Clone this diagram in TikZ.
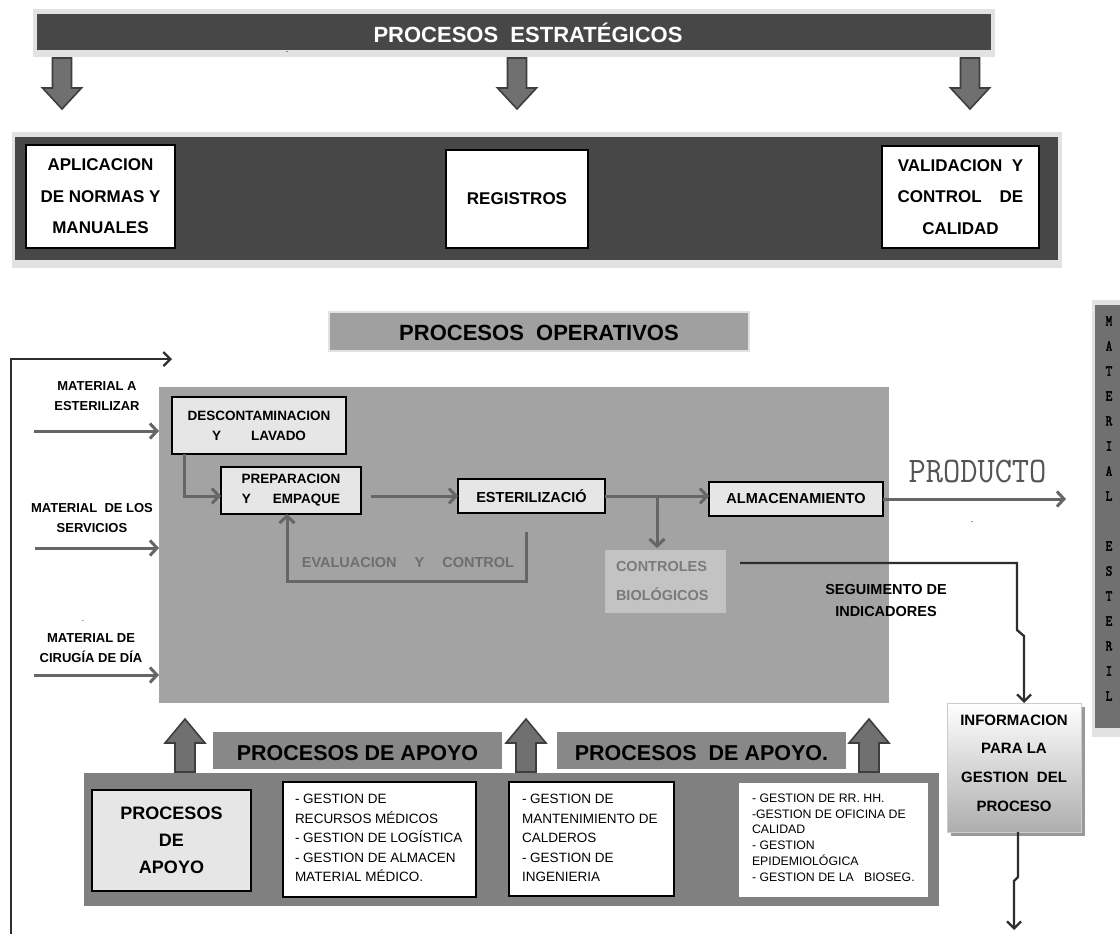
\documentclass[tikz,border=0pt]{standalone}
\usepackage{graphicx}
\usepackage{fontspec}
\setmainfont{Liberation Sans}
\newfontfamily\sidemono{lmmono10-regular}[Extension=.otf, FakeBold=2.5]
\usetikzlibrary{arrows.meta,calc}
\definecolor{darkbar}{HTML}{474747}
\definecolor{lightbd}{HTML}{E2E2E2}
\definecolor{blockfill}{HTML}{707070}
\definecolor{blockline}{HTML}{3E3E3E}
\definecolor{opgray}{HTML}{A3A3A3}
\definecolor{oplabel}{HTML}{A0A0A0}
\definecolor{boxfill}{HTML}{E6E6E6}
\definecolor{conngray}{HTML}{666666}
\definecolor{ctrlfill}{HTML}{C3C3C3}
\definecolor{ctrltext}{HTML}{7A7A7A}
\definecolor{evaltext}{HTML}{6E6E6E}
\definecolor{apoyopanel}{HTML}{808080}
\definecolor{apoyolabel}{HTML}{888888}
\definecolor{sidegray}{HTML}{707070}
\definecolor{darkline}{HTML}{2E2E2E}
\definecolor{prodgray}{HTML}{555555}
\newcommand{\fs}[2]{\fontsize{#1}{#2}\selectfont}
\newcommand{\downblock}[1]{\draw[blockarrow] ({#1-9.5},58) -- ({#1+9.5},58) -- ({#1+9.5},88) -- ({#1+19.5},88) -- (#1,109) -- ({#1-19.5},88) -- ({#1-9.5},88) -- cycle;}
\newcommand{\upblock}[1]{\draw[blockarrow] ({#1-10},772) -- ({#1+10},772) -- ({#1+10},743) -- ({#1+20},743) -- (#1,719) -- ({#1-20},743) -- ({#1-10},743) -- cycle;}
\begin{document}
\begin{tikzpicture}[x=1pt,y=-1pt,
  every node/.style={inner sep=0pt, outer sep=0pt},
  wbox/.style={draw=black, line width=1.3pt, fill=white},
  lbox/.style={draw=black, line width=1.2pt, fill=boxfill, align=center},
  garrow/.style={draw=conngray, line width=3pt, -{Straight Barb[length=7pt,width=15pt]}},
  karrow/.style={draw=darkline, line width=2.3pt, -{Straight Barb[length=7pt,width=14pt]}},
  blockarrow/.style={fill=blockfill, draw=blockline, line width=1.6pt, line join=miter},
  bigtxt/.style={font=\bfseries\fs{17}{31.5}, align=center},
  midtxt/.style={font=\bfseries\fs{13.5}{20}, align=center},
  inlabel/.style={font=\bfseries\fs{13}{20}, align=center},
  listtxt/.style={font=\fs{13.5}{19.5}, align=left, anchor=west},
]
\useasboundingbox (0,0) rectangle (1120,934);
\fill[white] (0,0) rectangle (1120,934);

% ---------- strategic processes ----------
\fill[lightbd] (33,9) rectangle (995,57);
\node[fill=darkbar, minimum width=954pt, minimum height=36pt] (strat) at (514,32) {};
\node[text=white, font=\bfseries\fs{22}{26}] (strattxt) at (528,33) {PROCESOS\ \ ESTRATÉGICOS};
\node[font=\fs{9}{9}] (dot1) at (287,52) {.};
\downblock{62}
\downblock{517}
\downblock{970}

\fill[lightbd] (12,132) rectangle (1062,268);
\node[fill=darkbar, minimum width=1043pt, minimum height=123pt] (estpanel) at (536.5,198.5) {};
\node[wbox, bigtxt, minimum width=149pt, minimum height=103pt] (apl) at (100.5,196.5) {APLICACION\\DE NORMAS Y\\MANUALES};
\node[wbox, bigtxt, minimum width=142pt, minimum height=98pt] (reg) at (517,199) {REGISTROS};
\node[wbox, bigtxt, minimum width=157pt, minimum height=102pt] (val) at (960.5,197) {VALIDACION\ \ Y\\CONTROL\hspace{18pt}DE\\CALIDAD};

% ---------- operative processes ----------
\node[fill=oplabel, draw=lightbd, line width=2.5pt, minimum width=420pt, minimum height=39pt] (oplab) at (539,331.5) {};
\node[font=\bfseries\fs{22}{26}] (optxt) at (539,333) {PROCESOS\ \ OPERATIVOS};

\node[fill=opgray, minimum width=730pt, minimum height=316pt] (big) at (524,545) {};

\node[lbox, midtxt, minimum width=174pt, minimum height=57pt] (desc) at (259,425.5) {DESCONTAMINACION\\Y\hspace{30pt}LAVADO};
\node[lbox, midtxt, minimum width=140pt, minimum height=47pt] (prep) at (291,490.5) {PREPARACION\\Y\hspace{22pt}EMPAQUE};
\node[lbox, font=\bfseries\fs{14.5}{18}, minimum width=147pt, minimum height=34pt] (ester) at (531.5,496) {ESTERILIZACIÓ};
\node[lbox, font=\bfseries\fs{14.5}{18}, minimum width=174pt, minimum height=34pt] (alm) at (796,499) {ALMACENAMIENTO};
\node[fill=ctrlfill, minimum width=121pt, minimum height=63pt] (ctrl) at (665.5,581.5) {};
\node[text=ctrltext, font=\bfseries\fs{14.5}{29}, align=left, anchor=west] (ctrltxt) at (616,581) {CONTROLES\\BIOLÓGICOS};
\node[text=evaltext, font=\bfseries\fs{14.5}{18}, anchor=east] (evaltxt) at (514,563) {EVALUACION\hspace{18pt}Y\hspace{18pt}CONTROL};

\draw[garrow] ([xshift=12pt]desc.south west) |- ([yshift=-5.5pt]prep.west);
\draw[garrow] ([xshift=10pt,yshift=-5.5pt]prep.east) -- (ester.west);
\draw[garrow] (ester.east) -- (ester.east -| alm.west);
\coordinate (br) at (657,496);
\draw[garrow] (br) -- ([yshift=2pt]br |- ctrl.north);
\coordinate (evs) at (526,532);
\draw[garrow] (evs) -- ++(0,49) -| ([xshift=-4pt]prep.south);

% inputs
\node[inlabel] (mat1) at (97,396.5) {MATERIAL A\\ESTERILIZAR};
\node[inlabel] (mat2) at (92,518.5) {MATERIAL\ \ DE LOS\\SERVICIOS};
\node[inlabel] (mat3) at (91,648) {MATERIAL DE\\CIRUGÍA DE DÍA};
\node[font=\fs{8}{8}] (dot3) at (83,621) {.};
\coordinate (in1) at (34,431);
\coordinate (in2) at (35,548);
\coordinate (in3) at (34,675);
\draw[garrow] (in1) -- (in1 -| big.west);
\draw[garrow] (in2) -- (in2 -| big.west);
\draw[garrow] (in3) -- (in3 -| big.west);

% feedback line on the left
\coordinate (fbs) at (11,940);
\coordinate (fbe) at (172,359);
\draw[karrow] (fbs) |- (fbe);

% product
\node[text=prodgray] (prod) at (977.5,471) {\scalebox{0.93}[1]{\fs{36}{40}\ttfamily PRODUCTO}};
\node[font=\fs{9}{9}] (dot2) at (972,522) {.};
\coordinate (prodend) at (1066,499);
\draw[garrow] (alm.east) -- (prodend);

% side panel
\fill[lightbd] (1092,300) rectangle (1120,737);
\node[fill=sidegray, minimum width=25pt, minimum height=423pt, anchor=north west] (side) at (1095,305) {};
\foreach \ch/\k in {M/0,A/1,T/2,E/3,R/4,I/5,A/6,L/7,E/9,S/10,T/11,E/12,R/13,I/14,L/15}{
  \node[font=\sidemono\fs{15}{15}] (side\k) at (1109,{321+25*\k}) {\scalebox{0.85}[1]{\ch}};
}

% information box
\fill[black!40] (951,707) rectangle (1085,836);
\node[top color=white, bottom color=black!32, draw=black!20, line width=1pt, minimum width=134pt, minimum height=129pt] (info) at (1014,767.5) {};
\node[font=\bfseries\fs{15}{28.7}, align=center] (infotxt) at (1014,763) {INFORMACION\\PARA LA\\GESTION\ \ DEL\\PROCESO};

\node[font=\bfseries\fs{14.5}{22}, align=center] (seg) at (886,601) {SEGUIMENTO DE\\INDICADORES};
\coordinate (sgs) at (740,563);
\draw[karrow] (sgs) -- (1017,563) -- (1017,630) -- (1024,636) -- ([xshift=10pt]info.north);
\coordinate (outend) at (1014,930);
\draw[karrow] ([xshift=4pt]info.south) -- ++(0,45) -- ++(-4,4) -- (outend);

% ---------- support processes ----------
\upblock{185}
\upblock{526}
\upblock{869}
\node[fill=apoyolabel, minimum width=289pt, minimum height=37pt] (lab1) at (357.5,750.5) {};
\node[font=\bfseries\fs{21.5}{24}] (lab1txt) at (357.5,753) {PROCESOS DE APOYO};
\node[fill=apoyolabel, minimum width=289pt, minimum height=37pt] (lab2) at (701.5,750.5) {};
\node[font=\bfseries\fs{21.5}{24}] (lab2txt) at (701.5,753) {PROCESOS\ \ DE APOYO.};

\node[fill=apoyopanel, minimum width=855pt, minimum height=133pt] (apanel) at (511.5,839.5) {};
\node[lbox, font=\bfseries\fs{18}{27}, minimum width=159pt, minimum height=101pt] (pda) at (171.5,840.5) {PROCESOS\\DE\\APOYO};
\node[wbox, minimum width=193pt, minimum height=115pt] (w1) at (379.5,839.5) {};
\node[listtxt] (w1txt) at (295,838) {- GESTION DE\\RECURSOS MÉDICOS\\- GESTION DE LOGÍSTICA\\- GESTION DE ALMACEN\\MATERIAL MÉDICO.};
\node[wbox, minimum width=165pt, minimum height=114pt] (w2) at (591.5,839) {};
\node[listtxt] (w2txt) at (522,838) {- GESTION DE\\MANTENIMIENTO DE\\CALDEROS\\- GESTION DE\\INGENIERIA};
\node[fill=white, minimum width=189pt, minimum height=114pt] (w3) at (833.5,840) {};
\node[listtxt, font=\fs{12.3}{15.8}] (w3txt) at (752,837.5) {- GESTION DE RR. HH.\\-GESTION DE OFICINA DE\\CALIDAD\\- GESTION\\EPIDEMIOLÓGICA\\- GESTION DE LA\ \ \ BIOSEG.};
\end{tikzpicture}
\end{document}
